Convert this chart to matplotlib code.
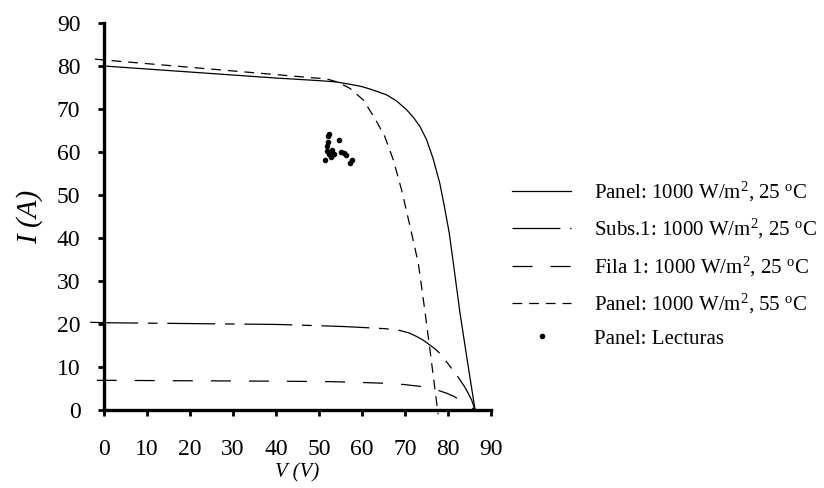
import matplotlib
matplotlib.use("Agg")
import matplotlib.pyplot as plt

plt.rcParams["font.family"] = ["Liberation Serif", "DejaVu Serif"]
plt.rcParams["mathtext.fontset"] = "custom"
plt.rcParams["mathtext.rm"] = "Liberation Serif"
plt.rcParams["mathtext.it"] = "Liberation Serif:italic"
plt.rcParams["lines.scale_dashes"] = False

# ----------------------------
# Data
# ----------------------------
# Panel: 1000 W/m2, 25 C
v_panel25 = [0, 10, 20, 30, 40, 50, 54, 58, 60, 62, 64, 65.7, 68, 70.4, 72,
             73.5, 75, 76.5, 78.1, 79.2, 80.3, 81.5, 82.8, 84.5, 86.3]
i_panel25 = [80.0, 79.3, 78.6, 77.9, 77.2, 76.6, 76.3, 75.6, 75.2, 74.6, 73.9,
             73.3, 71.9, 69.8, 68.0, 65.9, 62.9, 58.6, 52.7, 47.1, 41.1, 32.2,
             22.5, 11.4, 0.0]

# Subs.1: 1000 W/m2, 25 C
v_subs1 = [-3.2, 0, 10, 20, 30, 40, 50, 56, 61.9, 65.5, 68.8, 71, 72.7, 74.3,
           75.8, 77, 78.1, 79.3, 80.5, 81.7, 82.8, 83.8, 84.7, 85.5, 86.3]
i_subs1 = [20.4, 20.3, 20.2, 20.1, 20.0, 19.9, 19.6, 19.4, 19.1, 18.9, 18.5,
           17.9, 17.1, 16.2, 15.1, 14.2, 13.2, 11.7, 10.1, 8.6, 7.0, 5.5, 3.9,
           2.3, 0.0]

# Fila 1: 1000 W/m2, 25 C
v_fila1 = [-1.7, 0, 10, 20, 30, 40, 52.6, 60, 65.7, 70, 74.3, 77, 79.7, 81.3,
           82.8, 84.5, 86.3]
i_fila1 = [6.9, 6.9, 6.85, 6.8, 6.75, 6.7, 6.6, 6.4, 6.2, 5.9, 5.4, 4.8, 3.9,
           3.2, 2.3, 1.3, 0.0]

# Panel: 1000 W/m2, 55 C
v_panel55 = [-2.1, 0, 10, 20, 30, 40, 48, 51.8, 54.5, 57.2, 60.3, 63.0, 65.3,
             67.3, 69.2, 71.2, 73.1, 74.7, 76.2, 77.7]
i_panel55 = [81.6, 81.4, 80.55, 79.7, 78.85, 78.0, 77.3, 77.0, 76.2, 74.8, 72.1,
             67.8, 63.6, 58.1, 51.2, 42.6, 34.1, 22.5, 10.9, -1.0]

# Panel: Lecturas (measured points)
v_lect = [52.4, 52.2, 52.0, 51.9, 54.6, 51.8, 53.1, 52.4, 52.8, 53.6, 51.4,
          55.0, 55.7, 56.3, 57.6, 57.1]
i_lect = [64.2, 63.7, 62.3, 61.5, 62.8, 60.2, 60.5, 59.5, 58.9, 59.5, 58.1,
          59.9, 59.7, 59.3, 58.1, 57.4]

x_ticks = [0, 10, 20, 30, 40, 50, 60, 70, 80, 90]
y_ticks = [0, 10, 20, 30, 40, 50, 60, 70, 80, 90]

labels = [
    r"Panel: 1000 W/m$^{2}$, 25 $^{\rm o}$C",
    r"Subs.1: 1000 W/m$^{2}$, 25 $^{\rm o}$C",
    r"Fila 1: 1000 W/m$^{2}$, 25 $^{\rm o}$C",
    r"Panel: 1000 W/m$^{2}$, 55 $^{\rm o}$C",
    "Panel: Lecturas",
]

# ----------------------------
# Plot
# ----------------------------
fig = plt.figure(figsize=(8.24, 4.88), dpi=100)
ax = fig.add_axes([104 / 824, 78 / 488, 387 / 824, 387 / 488])

lw = 0.9
ax.plot(v_panel25, i_panel25, color="black", lw=lw, clip_on=False, label=labels[0])
ax.plot(v_subs1, i_subs1, color="black", lw=lw, clip_on=False,
        linestyle=(0, (34.5, 7, 7, 7)), label=labels[1])
ax.plot(v_fila1, i_fila1, color="black", lw=lw, clip_on=False,
        linestyle=(0, (14.4, 13)), label=labels[2])
ax.plot(v_panel55, i_panel55, color="black", lw=lw, clip_on=False,
        linestyle=(0, (7, 5)), label=labels[3])
ax.plot(v_lect, i_lect, linestyle="none", marker="o", markersize=3,
        color="black", label=labels[4])

ax.set_xlim(0, 90)
ax.set_ylim(0, 90)
ax.set_xticks(x_ticks)
ax.set_yticks(y_ticks)

for side in ["top", "right"]:
    ax.spines[side].set_visible(False)
for side in ["left", "bottom"]:
    ax.spines[side].set_linewidth(2.4)

ax.tick_params(axis="both", direction="out", length=4, width=2, labelsize=17)
ax.tick_params(axis="x", pad=17)
ax.tick_params(axis="y", pad=13)

ax.set_xlabel("V (V)", fontsize=15, style="italic", labelpad=2)
ax.set_ylabel("I (A)", fontsize=21, style="italic", labelpad=10)

fig.legend(
    loc="upper left",
    bbox_to_anchor=(512 / 824, 1 - 180 / 488),
    frameon=False,
    fontsize=15,
    handlelength=2.85,
    handletextpad=1.1,
    labelspacing=0.63,
    borderpad=0,
    borderaxespad=0,
    numpoints=1,
)

fig.savefig("out.png", dpi=100)
